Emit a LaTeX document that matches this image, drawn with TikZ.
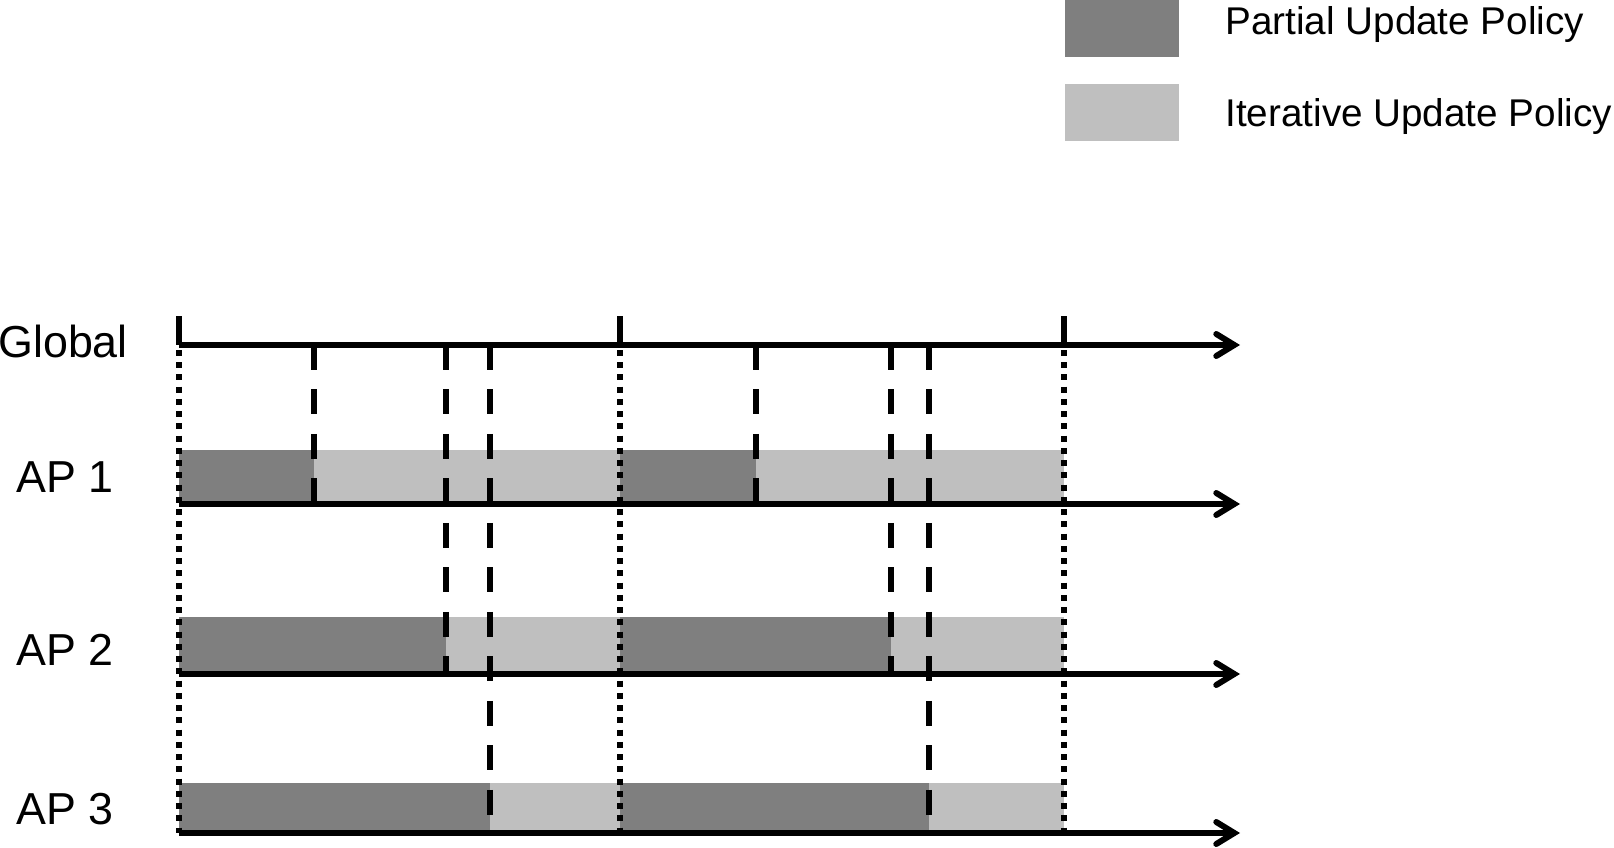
\documentclass[tikz,border=0pt]{standalone}
\usepackage{fontspec}
\setmainfont{Liberation Sans}
\usepackage{xcolor}
\usetikzlibrary{arrows.meta}
\definecolor{partgray}{HTML}{7F7F7F}
\definecolor{itergray}{HTML}{BFBFBF}

\begin{document}
\begin{tikzpicture}[x=0.02cm,y=-0.02cm,>={Straight Barb[length=0.36cm,width=0.44cm,line cap=round]},
  axis/.style={line width=3.4pt},
  syncline/.style={line width=3.4pt,dash pattern=on 0.12cm off 0.125cm},
  updline/.style={line width=3.4pt,dash pattern=on 0.5cm off 0.39cm},
  rowlbl/.style={font=\fontsize{25.5}{30}\selectfont,inner sep=0pt,anchor=base west},
  leglbl/.style={font=\fontsize{22}{26}\selectfont,inner sep=0pt,anchor=base west}]
  \useasboundingbox (0,0) rectangle (1614,848);
  % legend
  \fill[partgray] (1065,0) rectangle (1179,57);
  \fill[itergray] (1065,84) rectangle (1179,141);
  \node[leglbl] (legpart) at (1225,35) {Partial Update Policy};
  \node[leglbl] (legiter) at (1225,127) {Iterative Update Policy};
  % row labels
  \node[rowlbl] (glob) at (-2,357) {Global};
  \node[rowlbl] (ap1) at (16,492) {AP 1};
  \node[rowlbl] (ap2) at (16,665) {AP 2};
  \node[rowlbl] (ap3) at (16,824) {AP 3};
  % update periods per AP: axis y / bar top / end of partial part (two rounds)
  \foreach \r/\y/\t/\a/\b in {1/504/450/314/756, 2/674/617/446/891, 3/833/783/490/929}{
    \fill[partgray] (179,\t) rectangle (\a,\y);
    \fill[itergray] (\a,\t) rectangle (620,\y);
    \fill[partgray] (620,\t) rectangle (\b,\y);
    \fill[itergray] (\b,\t) rectangle (1064,\y);
    \coordinate (r\r s) at (179,\y);
    \coordinate (r\r e) at (1240,\y);
    \draw[axis,->] (r\r s) -- (r\r e);
    \draw[updline] (\a,345) -- (\a,\y);
    \draw[updline] (\b,345) -- (\b,\y);
  }
  % global time line
  \coordinate (gs) at (179,345);
  \coordinate (ge) at (1240,345);
  \draw[axis,->] (gs) -- (ge);
  \foreach \x in {179,620,1064}{
    \draw[axis] (\x,316) -- (\x,345);
    \draw[syncline] (\x,350) -- (\x,833);
  }
\end{tikzpicture}
\end{document}
